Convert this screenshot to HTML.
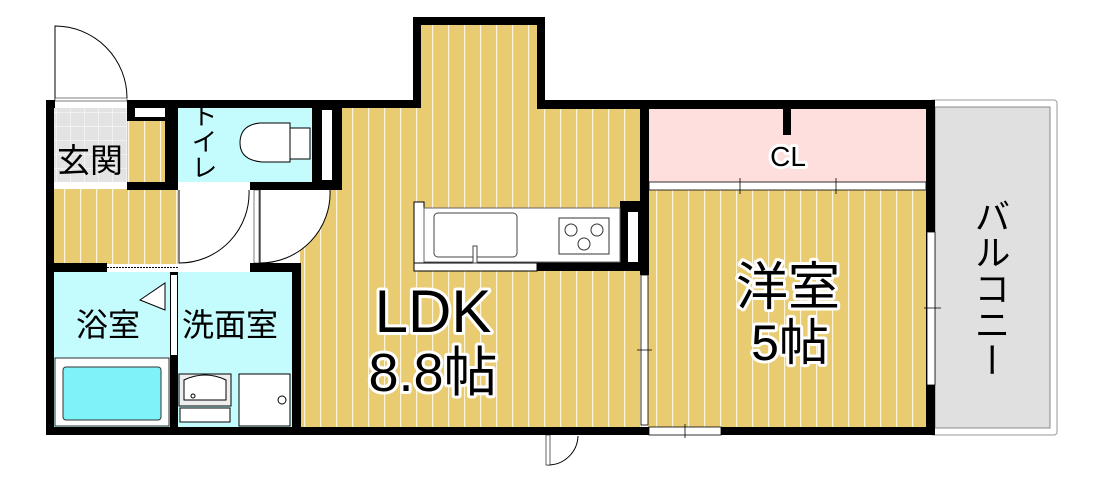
<!DOCTYPE html>
<html><head><meta charset="utf-8"><style>
body{margin:0;background:#fff;width:1105px;height:490px;overflow:hidden}
svg{display:block}
text{font-family:"Liberation Sans","Noto Sans CJK JP",sans-serif;fill:#000}
.h{stroke:#fff;stroke-width:6;paint-order:stroke;stroke-linejoin:round}
</style></head><body>
<svg width="1105" height="490" viewBox="0 0 1105 490">
<defs>
<pattern id="wood" width="16" height="10" patternUnits="userSpaceOnUse">
<rect width="16" height="10" fill="#E9CB72"/><rect x="0" width="1.2" height="10" fill="#FFF5DA"/>
</pattern>
<pattern id="tile" width="14" height="14" patternUnits="userSpaceOnUse">
<rect width="14" height="14" fill="#E3E3E3"/><path d="M0 0H14M0 0V14" stroke="#fff" stroke-width="1"/>
</pattern>
</defs>
<rect x="930" y="100" width="127" height="335" rx="3" fill="#fff" stroke="#999" stroke-width="1"/>
<rect x="935" y="107" width="115" height="321" fill="#E0E0E0" stroke="#888" stroke-width="1"/>
<rect x="421" y="25" width="116" height="90" fill="url(#wood)"/>
<rect x="342" y="108" width="298" height="322" fill="url(#wood)"/>
<rect x="300" y="190" width="342" height="240" fill="url(#wood)"/>
<rect x="648" y="190" width="280" height="238" fill="url(#wood)"/>
<rect x="649" y="108" width="278" height="74" fill="#FFDEDE"/>
<rect x="54" y="188" width="124" height="76" fill="url(#wood)"/>
<rect x="54" y="108" width="73" height="74" fill="url(#tile)"/>
<rect x="127" y="120" width="40" height="62" fill="url(#wood)"/>
<rect x="178" y="108" width="134" height="74" fill="#C4FCFE"/>
<rect x="54" y="272" width="116" height="155" fill="#C4FCFE"/>
<rect x="178" y="272" width="115" height="155" fill="#C4FCFE"/>
<g fill="#000">
<rect x="413" y="17" width="132" height="8"/>
<rect x="413" y="17" width="8" height="91"/>
<rect x="537" y="17" width="8" height="91"/>
<rect x="330" y="100" width="91" height="8"/>
<rect x="537" y="100" width="398" height="9"/>
<rect x="46" y="100" width="8" height="335"/>
<rect x="46" y="100" width="9" height="8"/>
<rect x="127" y="100" width="51" height="8"/>
<rect x="127" y="100" width="8" height="20"/>
<rect x="127" y="117" width="40" height="4"/>
<rect x="165" y="100" width="13" height="90"/>
<rect x="178" y="100" width="164" height="8"/>
<rect x="312" y="100" width="30" height="90"/>
<rect x="640" y="100" width="9" height="175"/>
<rect x="926" y="100" width="9" height="335"/>
<rect x="783" y="100" width="8" height="35"/>
<rect x="46" y="427" width="889" height="8"/>
<rect x="127" y="182" width="51" height="8"/>
<rect x="250" y="182" width="10" height="8"/>
<rect x="260" y="182" width="70" height="8"/>
<rect x="46" y="263" width="61" height="9"/>
<rect x="250" y="263" width="50" height="9"/>
<rect x="292" y="263" width="9" height="172"/>
<rect x="170" y="272" width="8" height="163"/>
<rect x="620" y="201" width="20" height="70"/>
<rect x="537" y="262" width="103" height="9"/>
</g>
<rect x="136" y="109" width="26" height="7" fill="#fff"/>
<rect x="322" y="110" width="10" height="70" fill="#fff"/>
<rect x="628" y="212" width="10" height="50" fill="#fff"/>
<rect x="171" y="275" width="6" height="80" fill="#fff"/>
<path d="M107 267.5H178" stroke="#000" stroke-width="1" stroke-dasharray="2 1"/>
<rect x="180" y="408" width="50" height="14" fill="#fff" stroke="#000"/>
<rect x="54" y="183" width="73" height="6" fill="#fff"/>
<rect x="178" y="183" width="72" height="6" fill="#fff"/>
<rect x="178" y="264" width="72" height="7" fill="#fff"/>
<rect x="254" y="190" width="5" height="73" fill="#fff" stroke="#000" stroke-width="0.5"/>
<rect x="641" y="275" width="7" height="150" fill="#fff" stroke="#000" stroke-width="0.8"/>
<rect x="649" y="427" width="72" height="8" fill="#fff" stroke="#000" stroke-width="0.8"/>
<rect x="927" y="232" width="8" height="153" fill="#fff" stroke="#000" stroke-width="0.8"/>
<rect x="649" y="182" width="277" height="8" fill="#fff" stroke="#000" stroke-width="0.8"/>
<path d="M740 178V194M836 178V194M924 308H941M637 350H652M685 424V438" stroke="#000" stroke-width="0.8"/>
<path d="M55 100V26A72 72 0 0 1 127 98" fill="#fff" stroke="#000" stroke-width="1"/>
<rect x="55" y="98" width="72" height="3" fill="#fff" stroke="#000" stroke-width="0.5"/>
<path d="M179 190V263A70 70 0 0 0 249 190" fill="#fff" stroke="#000" stroke-width="1"/>
<path d="M260 190V263A70 70 0 0 0 330 190" fill="#fff" stroke="#000" stroke-width="1"/>
<path d="M548 436V465A30 30 0 0 0 578 436" fill="#fff" stroke="#000" stroke-width="1"/>
<rect x="546" y="435" width="4" height="30" fill="#fff" stroke="#000" stroke-width="0.6"/>
<path d="M290 123H260Q240 125 240 143Q240 160 262 162H290Z" fill="#fff" stroke="#000"/>
<rect x="290" y="128" width="20" height="31" fill="#fff" stroke="#000"/>
<rect x="55" y="358" width="114" height="68" fill="#fff" stroke="#000" stroke-width="0.8"/>
<rect x="63" y="367" width="98" height="53" rx="3" fill="#7DF3F7" stroke="#333"/>
<path d="M140 300L165 283V310Z" fill="#fff" stroke="#000"/>
<rect x="179" y="374" width="52" height="32" fill="#eee" stroke="#000"/>
<path d="M184 380Q205 370 226 380V400H184Z" fill="#fff" stroke="#000"/>
<circle cx="193" cy="396" r="2" fill="#fff" stroke="#000"/>
<rect x="239" y="374" width="51" height="52" fill="#fff" stroke="#000"/>
<circle cx="282" cy="400" r="4" fill="none" stroke="#000"/>
<rect x="414" y="202" width="10" height="63" fill="#fff" stroke="#000"/>
<rect x="424" y="208" width="196" height="54" fill="#fff" stroke="#666"/>
<rect x="414" y="263" width="123" height="8" fill="#fff" stroke="#000"/>
<rect x="434" y="213" width="83" height="44" rx="4" fill="#fff" stroke="#444"/>
<rect x="473" y="246" width="4" height="17" fill="#fff" stroke="#444"/>
<rect x="559" y="218" width="50" height="36" fill="#fff" stroke="#333"/>
<circle cx="571" cy="230" r="6" fill="none" stroke="#333"/>
<circle cx="597" cy="230" r="6" fill="none" stroke="#333"/>
<circle cx="584" cy="244" r="6" fill="none" stroke="#333"/>
<text x="57" y="172" font-size="33">玄関</text>
<text x="203" y="102" font-size="26" style="writing-mode:vertical-rl">トイレ</text>
<text x="76" y="336" font-size="32">浴室</text>
<text x="182" y="336" font-size="32">洗面室</text>
<text class="h" x="433" y="332" font-size="60" text-anchor="middle">LDK</text>
<text class="h" x="433" y="391" font-size="54" text-anchor="middle">8.8帖</text>
<text class="h" x="788" y="305" font-size="52" text-anchor="middle">洋室</text>
<text class="h" x="790" y="360" font-size="50" text-anchor="middle">5帖</text>
<text class="h" x="788" y="166" font-size="28" text-anchor="middle">CL</text>
<text x="990" y="198" font-size="36" style="writing-mode:vertical-rl">バルコニー</text>
</svg>
</body></html>
